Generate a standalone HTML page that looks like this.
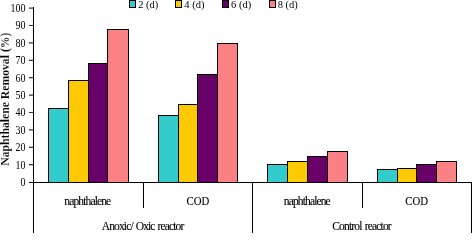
<!DOCTYPE html>
<html><head><meta charset="utf-8"><style>
html,body{margin:0;padding:0;background:#fff;width:472px;height:233px;overflow:hidden}
svg{display:block;will-change:transform}
text{font-family:"Liberation Serif",serif;fill:#000;stroke:#000;stroke-width:0.12px}
</style></head><body>
<svg width="472" height="233" viewBox="0 0 472 233" shape-rendering="crispEdges">
<defs><pattern id="py" width="8" height="8" patternUnits="userSpaceOnUse"><rect width="8" height="8" fill="#FFCB00"/><rect x="1" y="1" width="1" height="1" fill="#EDBD04"/><rect x="5" y="2" width="1" height="1" fill="#EDBD04"/><rect x="3" y="5" width="1" height="1" fill="#EDBD04"/><rect x="7" y="6" width="1" height="1" fill="#EDBD04"/></pattern><pattern id="pp" width="4" height="4" patternUnits="userSpaceOnUse"><rect width="4" height="4" fill="#FD8285"/><rect x="0" y="0" width="1" height="1" fill="#F67B80"/><rect x="2" y="2" width="1" height="1" fill="#F67B80"/></pattern></defs>
<rect x="0" y="0" width="472" height="233" fill="#fff"/>
<rect x="48.5" y="108.5" width="20" height="74" fill="#33CCCC" stroke="#000"/>
<rect x="68.5" y="80.5" width="20" height="102" fill="url(#py)" stroke="#000"/>
<rect x="88.5" y="63.5" width="19" height="119" fill="#690069" stroke="#000"/>
<rect x="107.5" y="29.5" width="21" height="153" fill="url(#pp)" stroke="#000"/>
<rect x="158.5" y="115.5" width="20" height="67" fill="#33CCCC" stroke="#000"/>
<rect x="178.5" y="104.5" width="19" height="78" fill="url(#py)" stroke="#000"/>
<rect x="197.5" y="74.5" width="20" height="108" fill="#690069" stroke="#000"/>
<rect x="217.5" y="43.5" width="20" height="139" fill="url(#pp)" stroke="#000"/>
<rect x="267.5" y="164.5" width="20" height="18" fill="#33CCCC" stroke="#000"/>
<rect x="287.5" y="161.5" width="20" height="21" fill="url(#py)" stroke="#000"/>
<rect x="307.5" y="156.5" width="20" height="26" fill="#690069" stroke="#000"/>
<rect x="327.5" y="151.5" width="20" height="31" fill="url(#pp)" stroke="#000"/>
<rect x="377.5" y="169.5" width="20" height="13" fill="#33CCCC" stroke="#000"/>
<rect x="397.5" y="168.5" width="19" height="14" fill="url(#py)" stroke="#000"/>
<rect x="416.5" y="164.5" width="20" height="18" fill="#690069" stroke="#000"/>
<rect x="436.5" y="161.5" width="20" height="21" fill="url(#pp)" stroke="#000"/>
<path d="M33.5 7V233M29 182.5H472M143.5 182V208M252.5 182V233M362.5 182V208M471.5 182V233" stroke="#000" fill="none"/>
<path d="M29 8.10H33M29 25.50H33M29 42.90H33M29 60.30H33M29 77.70H33M29 95.10H33M29 112.50H33M29 129.90H33M29 147.30H33M29 164.70H33" stroke="#333" stroke-width="1.2" fill="none" shape-rendering="auto"/>
<text transform="translate(25.5,12) scale(0.87,1)" text-anchor="end" style="font-size:11.5px;font-weight:400;stroke-width:0px">100</text>
<text transform="translate(25.5,29) scale(0.87,1)" text-anchor="end" style="font-size:11.5px;font-weight:400;stroke-width:0px">90</text>
<text transform="translate(25.5,47) scale(0.87,1)" text-anchor="end" style="font-size:11.5px;font-weight:400;stroke-width:0px">80</text>
<text transform="translate(25.5,64) scale(0.87,1)" text-anchor="end" style="font-size:11.5px;font-weight:400;stroke-width:0px">70</text>
<text transform="translate(25.5,82) scale(0.87,1)" text-anchor="end" style="font-size:11.5px;font-weight:400;stroke-width:0px">60</text>
<text transform="translate(25.5,99) scale(0.87,1)" text-anchor="end" style="font-size:11.5px;font-weight:400;stroke-width:0px">50</text>
<text transform="translate(25.5,116) scale(0.87,1)" text-anchor="end" style="font-size:11.5px;font-weight:400;stroke-width:0px">40</text>
<text transform="translate(25.5,134) scale(0.87,1)" text-anchor="end" style="font-size:11.5px;font-weight:400;stroke-width:0px">30</text>
<text transform="translate(25.5,151) scale(0.87,1)" text-anchor="end" style="font-size:11.5px;font-weight:400;stroke-width:0px">20</text>
<text transform="translate(25.5,169) scale(0.87,1)" text-anchor="end" style="font-size:11.5px;font-weight:400;stroke-width:0px">10</text>
<text transform="translate(25.5,186) scale(0.87,1)" text-anchor="end" style="font-size:11.5px;font-weight:400;stroke-width:0px">0</text>
<text transform="translate(64.25,204.5)" text-anchor="start" style="font-size:11.5px;font-weight:400;letter-spacing:-0.858px">naphthalene</text>
<text transform="translate(186.5,205) scale(0.9,1)" text-anchor="start" style="font-size:12px;font-weight:400">COD</text>
<text transform="translate(283.75,204.5)" text-anchor="start" style="font-size:11.5px;font-weight:400;letter-spacing:-0.858px">naphthalene</text>
<text transform="translate(405.3,205) scale(0.9,1)" text-anchor="start" style="font-size:12px;font-weight:400">COD</text>
<text transform="translate(101.8,230)" text-anchor="start" style="font-size:11.5px;font-weight:400;letter-spacing:-0.874px;word-spacing:1px">Anoxic/ Oxic reactor</text>
<text transform="translate(332.2,230)" text-anchor="start" style="font-size:11.5px;font-weight:400;letter-spacing:-0.82px;word-spacing:1px">Control reactor</text>
<text transform="translate(8.6,99.2) rotate(-90)" text-anchor="middle" style="font-size:11.7px;font-weight:700;stroke:#fff;stroke-width:0.12px">Naphthalene Removal (%)</text>
<rect x="129.5" y="0.5" width="6" height="7" fill="#33CCCC" stroke="#000"/>
<text transform="translate(138.2,7.8)" text-anchor="start" style="font-size:10.5px;font-weight:400;stroke-width:0px">2 (d)</text>
<rect x="175.5" y="0.5" width="6" height="7" fill="url(#py)" stroke="#000"/>
<text transform="translate(184.37,7.8)" text-anchor="start" style="font-size:10.5px;font-weight:400;stroke-width:0px">4 (d)</text>
<rect x="222.5" y="0.5" width="6" height="7" fill="#690069" stroke="#000"/>
<text transform="translate(231.04,7.8)" text-anchor="start" style="font-size:10.5px;font-weight:400;stroke-width:0px">6 (d)</text>
<rect x="269.5" y="0.5" width="6" height="7" fill="url(#pp)" stroke="#000"/>
<text transform="translate(277.71,7.8)" text-anchor="start" style="font-size:10.5px;font-weight:400;stroke-width:0px">8 (d)</text>
</svg>
</body></html>
